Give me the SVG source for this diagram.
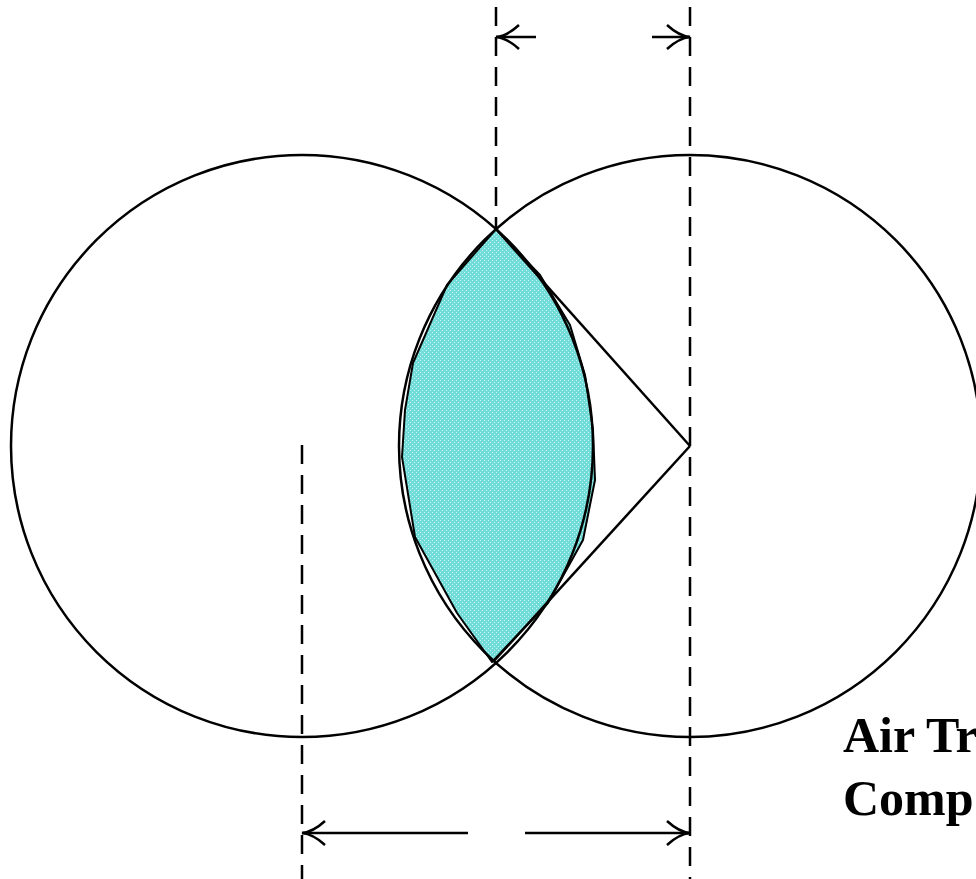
<svg xmlns="http://www.w3.org/2000/svg" width="976" height="879" viewBox="0 0 976 879">
<style>
.ln{fill:none;stroke:#000;stroke-width:2.5}
.dash{fill:none;stroke:#000;stroke-width:2.5;stroke-dasharray:19 11}
.arr{fill:none;stroke:#000;stroke-width:2.5;marker-end:url(#head)}
.lens{fill:url(#dots);stroke:#000;stroke-width:2;stroke-linejoin:round}
.lbl{font-family:"Liberation Serif","Times New Roman",serif;font-weight:bold;font-size:50px;fill:#000}
</style>
<defs>
<pattern id="dots" width="4" height="4" patternUnits="userSpaceOnUse">
<rect width="4" height="4" fill="#72dcd9"/>
<rect x="0" y="0" width="1" height="1" fill="#c8f5f3"/>
<rect x="2" y="2" width="1" height="1" fill="#c8f5f3"/>
</pattern>
<marker id="head" markerUnits="userSpaceOnUse" markerWidth="30" markerHeight="30" viewBox="-25 -15 30 30" refX="0" refY="0" orient="auto" overflow="visible">
<path d="M-23,-12 Q-11,-1 0,0 Q-11,1 -23,12" fill="none" stroke="#000" stroke-width="2.5"/>
</marker>
</defs>
<g id="lens">
<polygon class="lens" points="496,229 540,275 570,325 585,375 593,430 595,480 583,540 548,603 492,662 457,613 415,537 402,457 405,410 413,363 447,285"/>
</g>
<g id="left-circle">
<circle class="ln" cx="302" cy="446" r="291"/>
</g>
<g id="right-circle">
<circle class="ln" cx="690" cy="446" r="291"/>
</g>
<g id="connectors">
<line class="ln" x1="496" y1="229" x2="690" y2="446"/>
<line class="ln" x1="690" y1="446" x2="493" y2="662"/>
<line class="dash" x1="496" y1="7" x2="496" y2="229"/>
<line class="dash" x1="690" y1="7" x2="690" y2="879"/>
<line class="dash" x1="302" y1="445" x2="302" y2="879"/>
<line class="arr" x1="536" y1="37" x2="496" y2="37"/>
<line class="arr" x1="652" y1="37" x2="690" y2="37"/>
<line class="arr" x1="468" y1="833" x2="302" y2="833"/>
<line class="arr" x1="525" y1="833" x2="690" y2="833"/>
</g>
<g id="label">
<text class="lbl" x="843" y="752">Air Tr</text>
<text class="lbl" x="843" y="815">Comp</text>
</g>
</svg>
